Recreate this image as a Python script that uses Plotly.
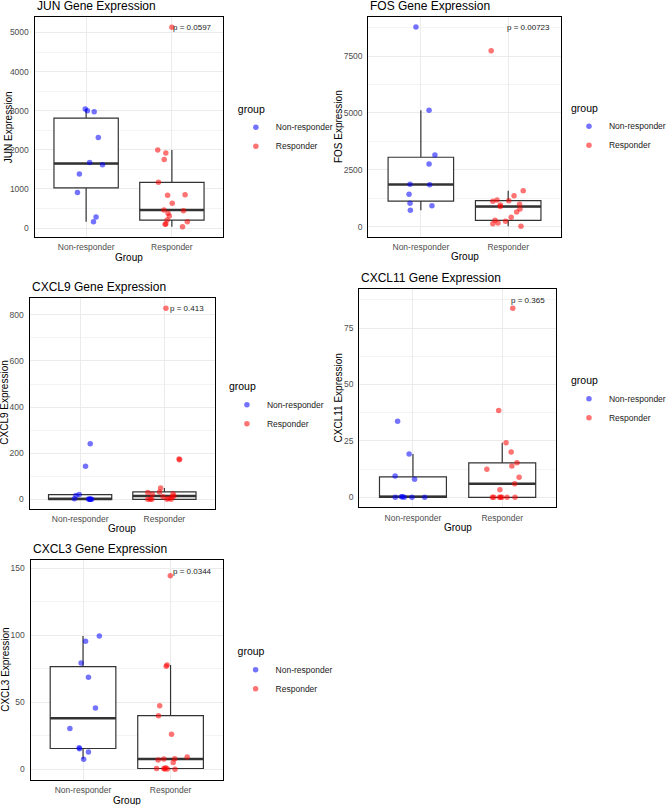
import numpy as np
import plotly.graph_objects as go

W, H = 671, 805
FONT = "Liberation Sans, Arial, sans-serif"

CATEGORIES = ["Non-responder", "Responder"]
GENES = ["JUN", "FOS", "CXCL9", "CXCL11", "CXCL3"]
P_LABELS = ["p = 0.0597", "p = 0.00723", "p = 0.413", "p = 0.365", "p = 0.0344"]

# expression values and horizontal jitter (category units)
JUN_NR = [3041, 2998, 2973, 2317, 1678, 1618, 1380, 911, 281, 162]
JUN_NR_JIT = [-0.01, 0.015, 0.094, 0.142, 0.041, 0.191, -0.079, -0.101, 0.116, 0.086]
JUN_R = [5136, 1993, 1917, 1755, 1167, 835, 852, 630, 460, 443, 375, 307, 204, 162, 102, 94, 34]
JUN_R_JIT = [0.0, -0.165, -0.071, -0.09, -0.157, -0.05, 0.154, 0.004, -0.093, 0.135, -0.045,
             -0.03, -0.056, 0.18, -0.071, -0.079, 0.124]

FOS_NR = [8775, 5113, 3150, 2754, 1861, 1846, 1421, 1026, 923, 718]
FOS_NR_JIT = [-0.056, 0.094, 0.161, 0.094, -0.124, 0.101, -0.135, -0.124, 0.127, -0.12]
FOS_R = [7735, 1582, 1362, 1173, 1116, 1143, 953, 885, 983, 777, 645, 411, 280, 237, 132, 162, 18]
FOS_R_JIT = [-0.195, 0.172, 0.067, -0.128, -0.176, 0.007, -0.09, -0.09, 0.13, 0.135, 0.097,
             0.034, -0.15, -0.03, -0.176, -0.117, 0.146]

CXCL9_NR = [241, 143, 21, 17, 2, 0, 0, 0, 0, 1]
CXCL9_NR_JIT = [0.12, 0.064, -0.011, -0.05, -0.068, 0.109, 0.136, 0.12, 0.125, 0.10]
CXCL9_R = [829, 175, 172, 49, 30, 32, 22, 24, 14, 11, 9, 4, 0, 0, 0, 0, 0]
CXCL9_R_JIT = [0.018, 0.174, 0.18, -0.045, -0.197, -0.057, -0.144, 0.102, 0.114, -0.016,
               0.09, 0.05, -0.197, -0.167, -0.15, 0.03, 0.08]

CXCL11_NR = [33.7, 19.2, 9.4, 8.0, 0.0, 0.3, 0.2, 0.0, 0.0, 0.0]
CXCL11_NR_JIT = [-0.172, -0.043, -0.2, 0.018, -0.198, -0.129, -0.118, -0.097, -0.011, 0.132]
CXCL11_R = [83.8, 38.5, 24.2, 20.1, 15.3, 13.9, 12.4, 8.9, 6.0, 3.4, 0, 0, 0, 0, 0, 0, 0]
CXCL11_R_JIT = [0.118, -0.04, 0.043, 0.1, 0.165, 0.108, -0.172, 0.189, 0.14, -0.026,
                -0.094, -0.018, -0.004, 0.054, 0.143, -0.11, -0.03]

CXCL3_NR = [99.5, 95.5, 79.3, 68.7, 45.7, 30.5, 16.1, 15.3, 12.9, 7.5]
CXCL3_NR_JIT = [0.186, 0.029, -0.022, 0.062, 0.142, -0.15, -0.044, -0.04, 0.062, 0.007]
CXCL3_R = [144.5, 77.8, 76.9, 47.5, 40.0, 26.1, 9.2, 7.9, 7.7, 6.9, 5.0, 1.1, 0.6, 0.5, 0.3, 0.2, 0.0]
CXCL3_R_JIT = [-0.003, -0.04, -0.05, -0.124, -0.138, 0.011, 0.19, 0.048, -0.077, -0.142, 0.03,
               -0.055, -0.077, -0.16, -0.066, -0.036, 0.051]

DATA = {
    "JUN": (JUN_NR, JUN_NR_JIT, JUN_R, JUN_R_JIT),
    "FOS": (FOS_NR, FOS_NR_JIT, FOS_R, FOS_R_JIT),
    "CXCL9": (CXCL9_NR, CXCL9_NR_JIT, CXCL9_R, CXCL9_R_JIT),
    "CXCL11": (CXCL11_NR, CXCL11_NR_JIT, CXCL11_R, CXCL11_R_JIT),
    "CXCL3": (CXCL3_NR, CXCL3_NR_JIT, CXCL3_R, CXCL3_R_JIT),
}

# panel layout in pixels: (left, right, top, bottom), y range, y tick step, y-title x, legend (x, y)
PANELS = {
    "JUN":    dict(box=(36, 232, 17, 237), yr=(-230, 5396), dt=1000, ytx=8.5, leg=(247, 109)),
    "FOS":    dict(box=(382.7, 582.3, 16.7, 236.7), yr=(-439, 9227), dt=2500, ytx=351.5, leg=(593, 108)),
    "CXCL9":  dict(box=(30.7, 223.3, 297.7, 508.7), yr=(-40.8, 874.5), dt=200, ytx=4.7, leg=(237.7, 386.7)),
    "CXCL11": dict(box=(373.3, 577.3, 289.3, 507.3), yr=(-4.43, 92.2), dt=25, ytx=351.2, leg=(593, 380.7)),
    "CXCL3":  dict(box=(31.7, 231.7, 560, 780), yr=(-8.0, 156.2), dt=50, ytx=5, leg=(246.7, 651.7)),
}

COLORS = {"Non-responder": "rgba(0,0,255,0.55)", "Responder": "rgba(255,0,0,0.55)"}
BOX_COLOR = "#333333"
BOX_WIDTH = 0.75


def px(x, y):
    return x / W, 1 - y / H


def box_stats(vals):
    a = np.asarray(vals, dtype=float)
    q1, med, q3 = np.percentile(a, [25, 50, 75])
    iqr = q3 - q1
    lo = a[a >= q1 - 1.5 * iqr].min()
    hi = a[a <= q3 + 1.5 * iqr].max()
    return q1, med, q3, lo, hi


fig = go.Figure()
annotations = []
layout = {}

for i, gene in enumerate(GENES):
    n = i + 1
    sfx = "" if n == 1 else str(n)
    xa, ya = "x" + sfx, "y" + sfx
    leg = "legend" + sfx
    p = PANELS[gene]
    L, R, T, B = p["box"]
    nr, nrj, r, rj = DATA[gene]

    for ci, (vals, jit, cat) in enumerate([(nr, nrj, CATEGORIES[0]), (r, rj, CATEGORIES[1])]):
        pos = ci + 1
        q1, med, q3, lo, hi = box_stats(vals)
        fig.add_trace(go.Box(
            x=[pos], q1=[q1], median=[med], q3=[q3], lowerfence=[lo], upperfence=[hi],
            width=BOX_WIDTH, whiskerwidth=0, fillcolor="white",
            line=dict(color=BOX_COLOR, width=1.2), boxpoints=False,
            showlegend=False, hoverinfo="skip", xaxis=xa, yaxis=ya))
        fig.add_trace(go.Scatter(
            x=[pos - BOX_WIDTH / 2, pos + BOX_WIDTH / 2], y=[med, med], mode="lines",
            line=dict(color=BOX_COLOR, width=2.4), showlegend=False, hoverinfo="skip",
            xaxis=xa, yaxis=ya))
    for ci, (vals, jit, cat) in enumerate([(nr, nrj, CATEGORIES[0]), (r, rj, CATEGORIES[1])]):
        pos = ci + 1
        fig.add_trace(go.Scatter(
            x=[pos + j for j in jit], y=vals, mode="markers", name=cat,
            marker=dict(color=COLORS[cat], size=5.5), legend=leg,
            xaxis=xa, yaxis=ya))

    x0, y1 = px(L, T)
    x1, y0 = px(R, B)
    ticks = list(np.arange(0, p["yr"][1], p["dt"]))
    layout["xaxis" + sfx] = dict(
        domain=[x0, x1], anchor=ya, range=[0.4, 2.6], tickvals=[1, 2], ticktext=CATEGORIES,
        showgrid=True, gridcolor="#EBEBEB", gridwidth=1, zeroline=False,
        showline=True, mirror=True, linecolor="black", linewidth=1.3,
        tickfont=dict(size=8.5, color="#4D4D4D", family=FONT), ticks="", ticklabelstandoff=2)
    layout["yaxis" + sfx] = dict(
        domain=[y0, y1], anchor=xa, range=list(p["yr"]), tickvals=ticks,
        ticktext=[f"{t:g}" for t in ticks],
        showgrid=True, gridcolor="#EBEBEB", gridwidth=1, zeroline=False,
        minor=dict(dtick=p["dt"] / 2, tick0=p["dt"] / 2, showgrid=True,
                   gridcolor="#F4F4F4", gridwidth=0.7),
        showline=True, mirror=True, linecolor="black", linewidth=1.3,
        tickfont=dict(size=8.5, color="#4D4D4D", family=FONT), ticks="", ticklabelstandoff=3)

    lx, ly = px(*p["leg"])
    layout[leg] = dict(
        x=lx - 2 / W, y=ly + 10 / H, xanchor="left", yanchor="top",
        title=dict(text="group", font=dict(size=10.5, color="black", family=FONT)),
        font=dict(size=8.5, color="#1A1A1A", family=FONT), bgcolor="rgba(0,0,0,0)",
        tracegroupgap=0, itemwidth=30)

    # title
    tx, ty = px(L, T - 11)
    annotations.append(dict(text=f"{gene} Gene Expression", x=tx, y=ty, xref="paper", yref="paper",
                            xanchor="left", yanchor="middle", showarrow=False,
                            font=dict(size=12, color="black", family=FONT)))
    # x title
    gx, gy = px((L + R) / 2, B + 20)
    annotations.append(dict(text="Group", x=gx, y=gy, xref="paper", yref="paper",
                            xanchor="center", yanchor="middle", showarrow=False,
                            font=dict(size=10, color="black", family=FONT)))
    # y title
    yx, yy = px(p["ytx"], (T + B) / 2)
    annotations.append(dict(text=f"{gene} Expression", x=yx, y=yy, xref="paper", yref="paper",
                            xanchor="center", yanchor="middle", textangle=-90, showarrow=False,
                            font=dict(size=10, color="black", family=FONT)))
    # p-value
    annotations.append(dict(text=P_LABELS[i], x=1, y=0.95, xref=f"{xa} domain", yref=f"{ya} domain",
                            xanchor="right", yanchor="middle", xshift=-9, showarrow=False,
                            font=dict(size=8, color="#1A1A1A", family=FONT)))

fig.update_layout(
    width=W, height=H, margin=dict(l=0, r=0, t=0, b=0),
    paper_bgcolor="white", plot_bgcolor="white",
    font=dict(family=FONT), annotations=annotations, **layout)

fig.write_html("out.html")
